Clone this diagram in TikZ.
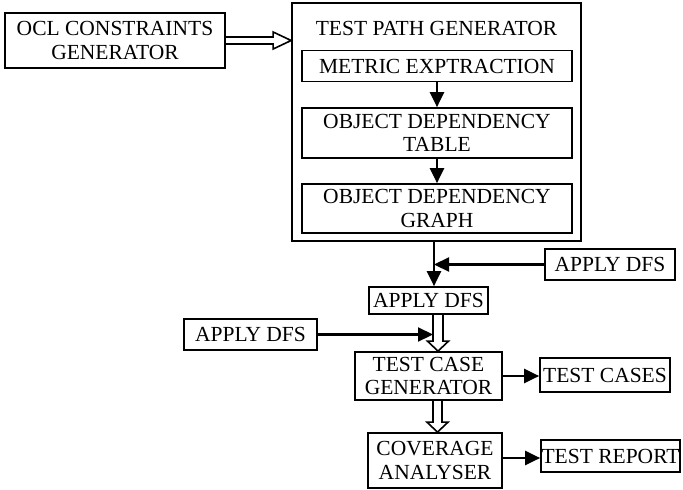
\documentclass[tikz,border=0pt]{standalone}
\usepackage{fontspec}
\setmainfont{Liberation Serif}
\usetikzlibrary{arrows.meta,calc}
\newcommand\diafont{\fontsize{21.5}{23.5}\selectfont}
\begin{document}
\begin{tikzpicture}[x=1pt,y=-1pt,
  box/.style={draw,line width=1.7pt,inner sep=0pt,align=center,font=\diafont},
  arr/.style={line width=2.2pt,-{Triangle[length=15pt,width=14pt]}},
  hollow/.style={line width=1.6pt,line join=miter}]
\useasboundingbox (0,0) rectangle (683,490);
% nodes
\node[box,minimum width=220,minimum height=55] (ocl) at (115,40.5) {OCL CONSTRAINTS\\GENERATOR};
\node[box,minimum width=289,minimum height=238] (tpg) at (436.5,122) {};
\node[inner sep=0pt,font=\diafont] (tpgtitle) at (436.5,28) {TEST PATH GENERATOR};
\node[box,minimum width=270,minimum height=31] (me) at (437,66) {METRIC EXPTRACTION};
\node[box,minimum width=270,minimum height=50] (odt) at (437,133) {OBJECT DEPENDENCY\\TABLE};
\node[box,minimum width=270,minimum height=49] (odg) at (437,208.5) {OBJECT DEPENDENCY\\GRAPH};
\node[box,minimum width=130,minimum height=31] (dfsR) at (610,264.5) {APPLY DFS};
\node[box,minimum width=119,minimum height=27] (dfsM) at (428.5,300.5) {APPLY DFS};
\node[box,minimum width=133,minimum height=31] (dfsL) at (250.5,334.5) {APPLY DFS};
\node[box,minimum width=147,minimum height=48] (tcg) at (428.5,376) {TEST CASE\\GENERATOR};
\node[box,minimum width=130,minimum height=34] (tcs) at (605,375) {TEST CASES};
\node[box,minimum width=134,minimum height=55] (cov) at (435,460.5) {COVERAGE\\ANALYSER};
\node[box,minimum width=139,minimum height=32] (trep) at (610.5,456) {TEST REPORT};
% hollow arrow OCL -> TPG
\coordinate (h1) at (ocl.east -| tpg.west);
\draw[hollow] ($(ocl.east)+(0,-3.5)$) -- ($(h1)+(-18,-3.5)$) -- ($(h1)+(-18,-8.5)$) -- (h1)
  -- ($(h1)+(-18,8.5)$) -- ($(h1)+(-18,3.5)$) -- ($(ocl.east)+(0,3.5)$);
% inner arrows
\draw[arr] (me.south) -- (odt.north);
\draw[arr] (odt.south) -- (odg.north);
% TPG -> middle APPLY DFS
\coordinate (vtop) at ($(tpg.south)+(-2.5,0)$);
\draw[arr] (vtop) -- (vtop |- dfsM.north);
\draw[arr] (dfsR.west) -- (dfsR.west -| vtop);
% hollow arrow dfsM -> tcg
\coordinate (d1) at ($(dfsM.south)+(9.5,0)$);
\coordinate (d2) at (d1 |- tcg.north);
\draw[hollow] ($(d1)+(-5,0)$) -- ($(d2)+(-5,-10)$) -- ($(d2)+(-10.5,-10)$) -- (d2)
  -- ($(d2)+(10.5,-10)$) -- ($(d2)+(5,-10)$) -- ($(d1)+(5,0)$);
\draw[arr] (dfsL.east) -- ($(dfsL.east -| d1)+(-5,0)$);
% tcg -> test cases
\draw[arr] (tcg.east) -- (tcg.east -| tcs.west);
% hollow arrow tcg -> cov
\coordinate (c1) at ($(tcg.south)+(9,0)$);
\coordinate (c2) at (c1 |- cov.north);
\draw[hollow] ($(c1)+(-4.5,0)$) -- ($(c2)+(-4.5,-10)$) -- ($(c2)+(-10.5,-10)$) -- (c2)
  -- ($(c2)+(10.5,-10)$) -- ($(c2)+(4.5,-10)$) -- ($(c1)+(4.5,0)$);
% cov -> test report
\coordinate (r1) at ($(cov.east)+(0,-2.5)$);
\draw[arr] (r1) -- (r1 -| trep.west);
\end{tikzpicture}
\end{document}
